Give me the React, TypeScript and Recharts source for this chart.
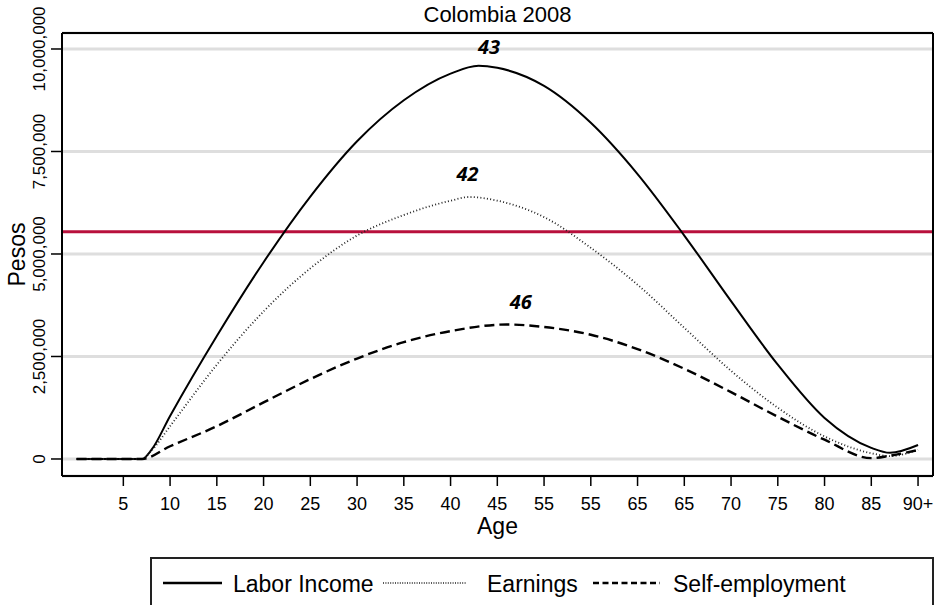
import React from "react";
import {
  LineChart,
  Line,
  XAxis,
  YAxis,
  CartesianGrid,
  ReferenceLine,
  ReferenceDot,
  Legend,
} from "recharts";

// ---- data ----
const laborAges = [0, 7, 8, 10, 15, 20, 25, 30, 35, 40, 43, 45, 50, 55, 60, 65, 70, 75, 80, 85, 87, 90];
const laborIncome = [0, 0, 220000, 1050000, 3000000, 4800000, 6400000, 7750000, 8750000, 9400000, 9590000, 9540000, 9100000, 8200000, 6950000, 5450000, 3850000, 2300000, 1000000, 270000, 150000, 340000];

const earningsAges = [0, 7, 8, 10, 15, 20, 25, 30, 35, 40, 42, 45, 50, 55, 60, 65, 70, 75, 80, 85, 87, 90];
const earnings = [0, 0, 200000, 800000, 2300000, 3600000, 4650000, 5450000, 5950000, 6300000, 6390000, 6300000, 5900000, 5150000, 4250000, 3200000, 2150000, 1250000, 550000, 140000, 70000, 220000];

const selfAges = [0, 7, 10, 15, 20, 25, 30, 35, 40, 46, 50, 55, 60, 65, 70, 75, 80, 85, 87, 90];
const selfEmployment = [0, 0, 310000, 800000, 1380000, 1950000, 2450000, 2850000, 3120000, 3280000, 3220000, 3030000, 2680000, 2200000, 1630000, 1030000, 470000, 20000, 80000, 220000];

const xTicks = [5, 10, 15, 20, 25, 30, 35, 40, 45, 50, 55, 60, 65, 70, 75, 80, 85, 90];
const xTickLabels = ["5", "10", "15", "20", "25", "30", "35", "40", "45", "55", "55", "65", "65", "70", "75", "80", "85", "90+"];
const yTicks = [0, 2500000, 5000000, 7500000, 10000000];
const yTickLabels = ["0", "2,500,000", "5,000,000", "7,500,000", "10,000,000"];

const redLineValue = 5540000;

const peakLabels = ["43", "42", "46"];
const peakLabelAges = [44.1, 41.8, 47.5];
const peakLabelValues = [10050000, 6940000, 3820000];

const seriesNames = ["Labor Income", "Earnings", "Self-employment"];

// ---- styles ----
const FONT = "'Liberation Sans', Arial, sans-serif";
const lineStyles = [
  { stroke: "#000", width: 2, dash: undefined as string | undefined },
  { stroke: "#222", width: 1.8, dash: "1 2.3" },
  { stroke: "#000", width: 2.4, dash: "10 5" },
];

const toData = (ages: number[], vals: number[]) => ages.map((a, i) => ({ age: a, v: vals[i] }));
const seriesData = [
  toData(laborAges, laborIncome),
  toData(earningsAges, earnings),
  toData(selfAges, selfEmployment),
];

const YTick = (props: any) => {
  const { x, y, payload, index } = props;
  const label = yTickLabels[yTicks.indexOf(payload.value)] ?? String(index);
  return (
    <text
      x={x}
      y={y}
      transform={`rotate(-90, ${x}, ${y})`}
      textAnchor="middle"
      fontFamily={FONT}
      fontSize={17}
      fill="#000"
    >
      {label}
    </text>
  );
};

const XTick = (props: any) => {
  const { x, y, payload } = props;
  const i = xTicks.indexOf(payload.value);
  return (
    <text x={x} y={y} dy="0.72em" textAnchor="middle" fontFamily={FONT} fontSize={18} fill="#000">
      {xTickLabels[i]}
    </text>
  );
};

const LegendBox = () => {
  const itemX = [
    { s: 13, e: 72, t: 83 },
    { s: 233, e: 316, t: 337 },
    { s: 443, e: 510, t: 523 },
  ];
  return (
    <svg width={790} height={60} style={{ display: "block" }}>
      <rect x={1} y={1} width={782} height={70} fill="#fff" stroke="#222" strokeWidth={2} />
      {seriesNames.map((n, i) => (
        <g key={n}>
          <line
            x1={itemX[i].s}
            x2={itemX[i].e}
            y1={26}
            y2={26}
            stroke={lineStyles[i].stroke}
            strokeWidth={i === 1 ? 1.6 : 2.6}
            strokeDasharray={i === 1 ? "1 1.4" : i === 2 ? "6 3.5" : undefined}
          />
          <text x={itemX[i].t} y={35} fontFamily={FONT} fontSize={23} fill="#000">
            {n}
          </text>
        </g>
      ))}
    </svg>
  );
};

export default function App() {
  return (
    <div style={{ position: "absolute", left: 0, top: 0, width: 937, height: 605, background: "#fff" }}>
      <LineChart width={937} height={605} margin={{ top: 0, right: 0, left: 0, bottom: 69 }}>
        <CartesianGrid horizontal vertical={false} stroke="#dedede" strokeWidth={3} />
        <XAxis
          dataKey="age"
          type="number"
          domain={[-1.56, 91.6]}
          allowDataOverflow
          ticks={xTicks}
          interval={0}
          height={60}
          tickSize={10}
          tickMargin={11}
          tick={<XTick />}
          axisLine={{ stroke: "#000", strokeWidth: 2 }}
          tickLine={{ stroke: "#000", strokeWidth: 1.5 }}
          label={{
            content: (p: any) => {
              const vb = p.viewBox;
              return (
                <text x={vb.x + vb.width / 2} y={vb.y + 58} textAnchor="middle" fontFamily={FONT} fontSize={23} fill="#000">
                  Age
                </text>
              );
            },
          }}
        />
        <XAxis
          xAxisId="top"
          orientation="top"
          type="number"
          domain={[-1.56, 91.6]}
          allowDataOverflow
          height={33}
          tick={false}
          tickLine={false}
          axisLine={{ stroke: "#000", strokeWidth: 2 }}
          label={{
            content: (p: any) => {
              const vb = p.viewBox;
              return (
                <text x={vb.x + vb.width / 2} y={22} textAnchor="middle" fontFamily={FONT} fontSize={22} fill="#000">
                  Colombia 2008
                </text>
              );
            },
          }}
        />
        <YAxis
          type="number"
          domain={[-415000, 10390000]}
          allowDataOverflow
          ticks={yTicks}
          interval={0}
          width={62}
          tickSize={11}
          tickMargin={6}
          tick={<YTick />}
          axisLine={{ stroke: "#000", strokeWidth: 2 }}
          tickLine={{ stroke: "#000", strokeWidth: 1.5 }}
          label={{
            content: (p: any) => {
              const vb = p.viewBox;
              const cy = vb.y + vb.height / 2;
              return (
                <text x={25} y={cy} transform={`rotate(-90, 25, ${cy})`} textAnchor="middle" fontFamily={FONT} fontSize={23} fill="#000">
                  Pesos
                </text>
              );
            },
          }}
        />
        <YAxis
          yAxisId="right"
          orientation="right"
          type="number"
          domain={[-415000, 10390000]}
          allowDataOverflow
          width={4}
          tick={false}
          tickLine={false}
          axisLine={{ stroke: "#000", strokeWidth: 2 }}
        />
        <ReferenceLine y={redLineValue} stroke="#b8103c" strokeWidth={3} />
        {seriesNames.map((n, i) => (
          <Line
            key={n}
            name={n}
            data={seriesData[i]}
            dataKey="v"
            type="monotone"
            stroke={lineStyles[i].stroke}
            strokeWidth={lineStyles[i].width}
            strokeDasharray={lineStyles[i].dash}
            dot={false}
            activeDot={false}
            isAnimationActive={false}
          />
        ))}
        {peakLabels.map((t, i) => (
          <ReferenceDot
            key={t + i}
            x={peakLabelAges[i]}
            y={peakLabelValues[i]}
            r={0}
            shape={(p: any) => (
              <text
                x={p.cx}
                y={p.cy}
                dy="0.35em"
                textAnchor="middle"
                fontFamily="'Open Sans', 'Noto Sans', sans-serif"
                fontWeight="bold"
                fontStyle="italic"
                fontSize={20}
                fill="#000"
              >
                {t}
              </text>
            )}
          />
        ))}
        <Legend
          layout="horizontal"
          verticalAlign="middle"
          align="center"
          content={() => <LegendBox />}
          wrapperStyle={{ position: "absolute", left: 150, top: 557, width: 790, height: 60 }}
        />
      </LineChart>
    </div>
  );
}
